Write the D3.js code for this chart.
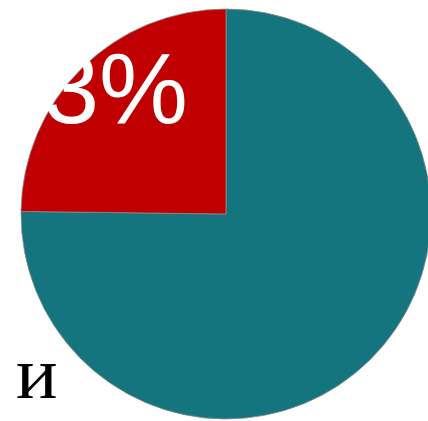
<!DOCTYPE html>
<html>
<head>
<meta charset="utf-8">
<script src="https://cdn.jsdelivr.net/npm/d3@7"></script>
<style>
  body { margin: 0; background: #fff; }
  svg { display: block; }
</style>
</head>
<body>
<script>
// slice data (teal first, clockwise from 12 o'clock)
const categories = ["other", "red"]
const values = [75.2, 24.8]
const labels = ["", "3%"]
const colors = ["#14757f", "#c00000"]

const width = 428, height = 421
const cx = 226, cy = 214, radius = 205

const svg = d3.select("body").append("svg")
  .attr("width", width).attr("height", height)

const g = svg.append("g").attr("transform", `translate(${cx},${cy})`)

const pie = d3.pie().sort(null).value(d => d)
const arc = d3.arc().innerRadius(0).outerRadius(radius)
const arcs = pie(values)

g.selectAll("path").data(arcs).enter().append("path")
  .attr("d", arc)
  .attr("fill", (d, i) => colors[i])
  .attr("stroke", "#8a8a8a")
  .attr("stroke-width", 0.8)

// label of the red slice, white - its left edge runs off the slice onto the white page
svg.append("text")
  .attr("x", 188).attr("y", 123)
  .attr("text-anchor", "end")
  .style("font-family", "'Liberation Sans', Arial, sans-serif")
  .style("font-size", "100px")
  .attr("fill", "#fff")
  .text(labels[1])

// stray legend letter bottom left
svg.append("text")
  .attr("transform", "translate(16,398) scale(1.05,1)")
  .style("font-family", "'Liberation Serif', 'Times New Roman', serif")
  .style("font-size", "74px")
  .attr("fill", "#000")
  .text("и")
</script>
</body>
</html>
